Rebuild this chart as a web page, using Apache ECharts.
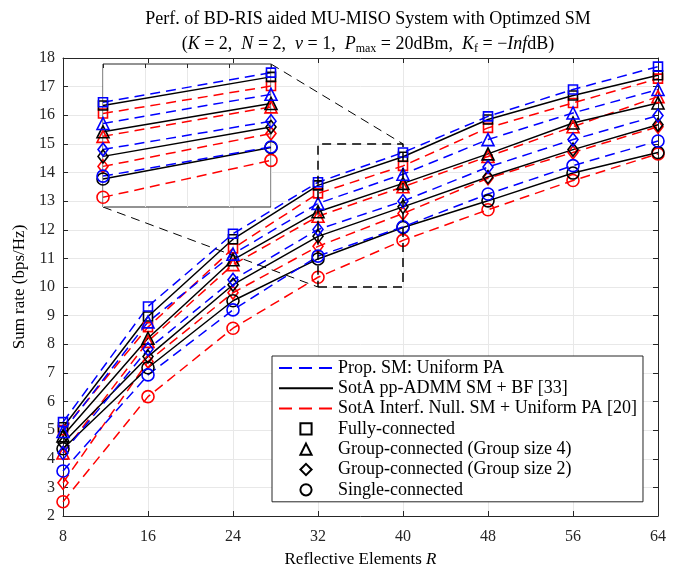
<!DOCTYPE html>
<html>
<head>
<meta charset="utf-8">
<script src="https://cdn.jsdelivr.net/npm/echarts@6/dist/echarts.min.js"></script>
<style>
  html, body { margin: 0; padding: 0; background: #fff; }
  #chart { width: 679px; height: 569px; }
</style>
</head>
<body>
<div id="chart"></div>
<script>
// reflective elements R
const xVals = [8, 16, 24, 32, 40, 48, 56, 64]

// Prop. SM: Uniform PA (blue dashed)
const propFully = [5.28, 9.32, 11.86, 13.66, 14.70, 15.96, 16.90, 17.70]
const propGroup4 = [4.95, 8.78, 11.15, 12.92, 13.94, 15.15, 16.08, 16.90]
const propGroup2 = [4.20, 7.83, 10.25, 12.01, 13.00, 14.19, 15.15, 15.99]
const propSingle = [3.57, 6.93, 9.20, 11.08, 12.10, 13.25, 14.24, 15.10]

// SotA pp-ADMM SM + BF [33] (black solid)
const admmFully = [5.10, 8.97, 11.67, 13.55, 14.55, 15.85, 16.69, 17.40]
const admmGroup4 = [4.80, 8.21, 10.95, 12.63, 13.62, 14.65, 15.73, 16.43]
const admmGroup2 = [4.55, 7.57, 10.08, 11.77, 12.80, 13.84, 14.80, 15.67]
const admmSingle = [4.35, 7.18, 9.52, 10.98, 12.08, 13.01, 13.98, 14.70]

// SotA Interf. Null. SM + Uniform PA [20] (red dashed)
const nullFully = [5.00, 8.60, 11.35, 13.27, 14.23, 15.56, 16.43, 17.28]
const nullGroup4 = [4.20, 8.10, 10.78, 12.47, 13.50, 14.56, 15.60, 16.65]
const nullGroup2 = [3.16, 7.40, 9.80, 11.42, 12.57, 13.80, 14.70, 15.60]
const nullSingle = [2.50, 6.17, 8.56, 10.34, 11.63, 12.70, 13.72, 14.65]

// zoomed window shown in the inset
const zoomX = [32, 40]
const zoomY = [10, 15]

const methodNames = ["Prop. SM: Uniform PA", "SotA pp-ADMM SM + BF [33]", "SotA Interf. Null. SM + Uniform PA [20]"]
const archNames = ["Fully-connected", "Group-connected (Group size 4)", "Group-connected (Group size 2)", "Single-connected"]

const FONT = "Liberation Serif"
const BLUE = "#0000ff"
const RED = "#ff0000"
const DASH = [10, 6]

const symbols = ["rect", "triangle", "diamond", "circle"]
const symbolSizes = [9, 12, [10, 13], 12]

const groups = [
  { color: RED, dashed: true, sets: [nullFully, nullGroup4, nullGroup2, nullSingle] },
  { color: "#000", dashed: false, sets: [admmFully, admmGroup4, admmGroup2, admmSingle] },
  { color: BLUE, dashed: true, sets: [propFully, propGroup4, propGroup2, propSingle] },
]

const insetBox = { left: 103, top: 64, width: 168, height: 143 }

function pairs(arr, range) {
  const pts = xVals.map((x, i) => [x, arr[i]])
  return range ? pts.filter((p) => p[0] >= range[0] && p[0] <= range[1]) : pts
}

function lineSeries(name, data, color, dashed, k, inset) {
  return {
    name: name,
    type: "line",
    xAxisIndex: inset ? 2 : 0,
    yAxisIndex: inset ? 2 : 0,
    z: inset ? 12 : 2,
    data: data,
    symbol: symbols[k],
    symbolSize: symbolSizes[k],
    showAllSymbol: true,
    silent: true,
    animation: false,
    lineStyle: { color: color, width: 1.5, type: dashed ? DASH : "solid" },
    itemStyle: { color: "rgba(0,0,0,0)", borderColor: color, borderWidth: 1.6 },
  }
}

const series = []
groups.forEach((g, gi) => {
  g.sets.forEach((arr, k) => {
    series.push(lineSeries("main-" + gi + "-" + k, pairs(arr), g.color, g.dashed, k, false))
  })
})
groups.forEach((g, gi) => {
  g.sets.forEach((arr, k) => {
    series.push(lineSeries("inset-" + gi + "-" + k, pairs(arr, zoomX), g.color, g.dashed, k, true))
  })
})

// dashed zoom rectangle in main axes
series.push({
  name: "zoom-box",
  type: "line",
  z: 3,
  silent: true,
  animation: false,
  symbol: "none",
  data: [[zoomX[0], zoomY[0]], [zoomX[1], zoomY[0]], [zoomX[1], zoomY[1]], [zoomX[0], zoomY[1]], [zoomX[0], zoomY[0]]],
  lineStyle: { color: "#000", width: 1.5, type: [9, 6] },
})

// legend-only entries
const legendColors = [BLUE, "#000", RED]
methodNames.forEach((n, i) => {
  series.push({
    name: n,
    type: "line",
    data: [],
    symbol: "none",
    lineStyle: { color: legendColors[i], width: 1.5, type: i === 1 ? "solid" : DASH },
    itemStyle: { color: "rgba(0,0,0,0)", borderWidth: 0 },
  })
})
archNames.forEach((n, k) => {
  series.push({
    name: n,
    type: "line",
    data: [],
    symbol: symbols[k],
    lineStyle: { width: 0, opacity: 0 },
    itemStyle: { color: "rgba(0,0,0,0)", borderColor: "#000", borderWidth: 1.6 },
  })
})

const axisColor = "#262626"
const gridColor = "#e8e8e8"
const tickStyle = { show: true, inside: true, length: 5, lineStyle: { color: axisColor } }

const chart = echarts.init(document.getElementById("chart"), null, { renderer: "canvas" })

const option = {
  animation: false,
  backgroundColor: "#fff",
  title: {
    text: "Perf. of BD-RIS aided MU-MISO System with Optimzed SM",
    subtext: "({i|K} = 2,  {i|N} = 2,  {i|ν} = 1,  {i|P}{s|max} = 20dBm,  {i|K}{s|f} = −{i|Inf}dB)",
    left: 363,
    top: 5,
    textAlign: "center",
    itemGap: 5,
    textStyle: { fontFamily: FONT, fontSize: 18, fontWeight: "normal", color: "#000" },
    subtextStyle: {
      fontFamily: FONT,
      fontSize: 18,
      color: "#000",
      lineHeight: 22,
      rich: {
        i: { fontFamily: FONT, fontSize: 18, fontStyle: "italic", color: "#000", lineHeight: 22 },
        s: { fontFamily: FONT, fontSize: 12, color: "#000", verticalAlign: "bottom", lineHeight: 14 },
      },
    },
  },
  legend: {
    data: [
      { name: methodNames[0], lineStyle: { type: [13, 7] } },
      { name: methodNames[1] },
      { name: methodNames[2], lineStyle: { type: [13, 7] } },
      ...archNames.map((n) => ({ name: n })),
    ],
    orient: "vertical",
    left: 272,
    top: 356,
    padding: [3, 6, 3, 6],
    itemGap: 2.3,
    itemWidth: 54,
    itemHeight: 14,
    z: 20,
    selectedMode: false,
    backgroundColor: "#fff",
    borderColor: axisColor,
    borderWidth: 1,
    textStyle: { fontFamily: FONT, fontSize: 18, color: "#000", lineHeight: 16 },
  },
  grid: [
    { left: 63, right: 21, top: 58, bottom: 53, outerBoundsMode: "none" },
    { left: insetBox.left, top: insetBox.top, width: insetBox.width, height: insetBox.height, outerBoundsMode: "none" },
  ],
  xAxis: [
    {
      type: "value",
      gridIndex: 0,
      min: 8,
      max: 64,
      interval: 8,
      name: "Reflective Elements {i|R}",
      nameLocation: "middle",
      nameGap: 35,
      nameTextStyle: {
        fontFamily: FONT,
        fontSize: 17,
        color: "#000",
        rich: { i: { fontFamily: FONT, fontSize: 17, fontStyle: "italic", color: "#000" } },
      },
      axisLine: { show: true, lineStyle: { color: axisColor } },
      axisTick: tickStyle,
      axisLabel: { fontFamily: FONT, fontSize: 16, color: axisColor, margin: 13 },
      splitLine: { show: true, lineStyle: { color: gridColor } },
    },
    {
      type: "value",
      gridIndex: 0,
      position: "top",
      min: 8,
      max: 64,
      interval: 8,
      axisLine: { show: true, lineStyle: { color: axisColor } },
      axisTick: tickStyle,
      axisLabel: { show: false },
      splitLine: { show: false },
    },
    {
      type: "value",
      gridIndex: 1,
      position: "top",
      min: zoomX[0],
      max: zoomX[1],
      interval: 2,
      z: 11,
      axisLine: { show: false },
      axisTick: { show: true, inside: true, length: 4, lineStyle: { color: axisColor } },
      axisLabel: { show: false },
      splitLine: { show: true, lineStyle: { color: gridColor } },
    },
  ],
  yAxis: [
    {
      type: "value",
      gridIndex: 0,
      min: 2,
      max: 18,
      interval: 1,
      name: "Sum rate (bps/Hz)",
      nameLocation: "middle",
      nameGap: 33,
      nameTextStyle: { fontFamily: FONT, fontSize: 17, color: "#000" },
      axisLine: { show: true, lineStyle: { color: axisColor } },
      axisTick: tickStyle,
      axisLabel: { fontFamily: FONT, fontSize: 16, color: axisColor, margin: 8 },
      splitLine: { show: true, lineStyle: { color: gridColor } },
    },
    {
      type: "value",
      gridIndex: 0,
      position: "right",
      min: 2,
      max: 18,
      interval: 1,
      axisLine: { show: true, lineStyle: { color: axisColor } },
      axisTick: tickStyle,
      axisLabel: { show: false },
      splitLine: { show: false },
    },
    {
      type: "value",
      gridIndex: 1,
      min: zoomY[0],
      max: zoomY[1],
      interval: 1,
      z: 11,
      axisLine: { show: false },
      axisTick: { show: false },
      axisLabel: { show: false },
      splitLine: { show: false },
    },
  ],
  series: series,
}

chart.setOption(option)

// inset frame and connector lines
const cLow = chart.convertToPixel({ xAxisIndex: 0, yAxisIndex: 0 }, [zoomX[0], zoomY[0]])
const cHigh = chart.convertToPixel({ xAxisIndex: 0, yAxisIndex: 0 }, [zoomX[1], zoomY[1]])
const b = insetBox
chart.setOption({
  graphic: [
    {
      type: "line",
      z: 9,
      silent: true,
      shape: { x1: b.left, y1: b.top + b.height, x2: cLow[0], y2: cLow[1] },
      style: { stroke: "#000", lineWidth: 1, lineDash: [9, 6] },
    },
    {
      type: "line",
      z: 9,
      silent: true,
      shape: { x1: b.left + b.width, y1: b.top, x2: cHigh[0], y2: cHigh[1] },
      style: { stroke: "#000", lineWidth: 1, lineDash: [9, 6] },
    },
    {
      type: "rect",
      z: 10,
      silent: true,
      shape: { x: b.left, y: b.top, width: b.width, height: b.height },
      style: { fill: "#fff", stroke: axisColor, lineWidth: 1 },
    },
  ],
})
</script>
</body>
</html>
